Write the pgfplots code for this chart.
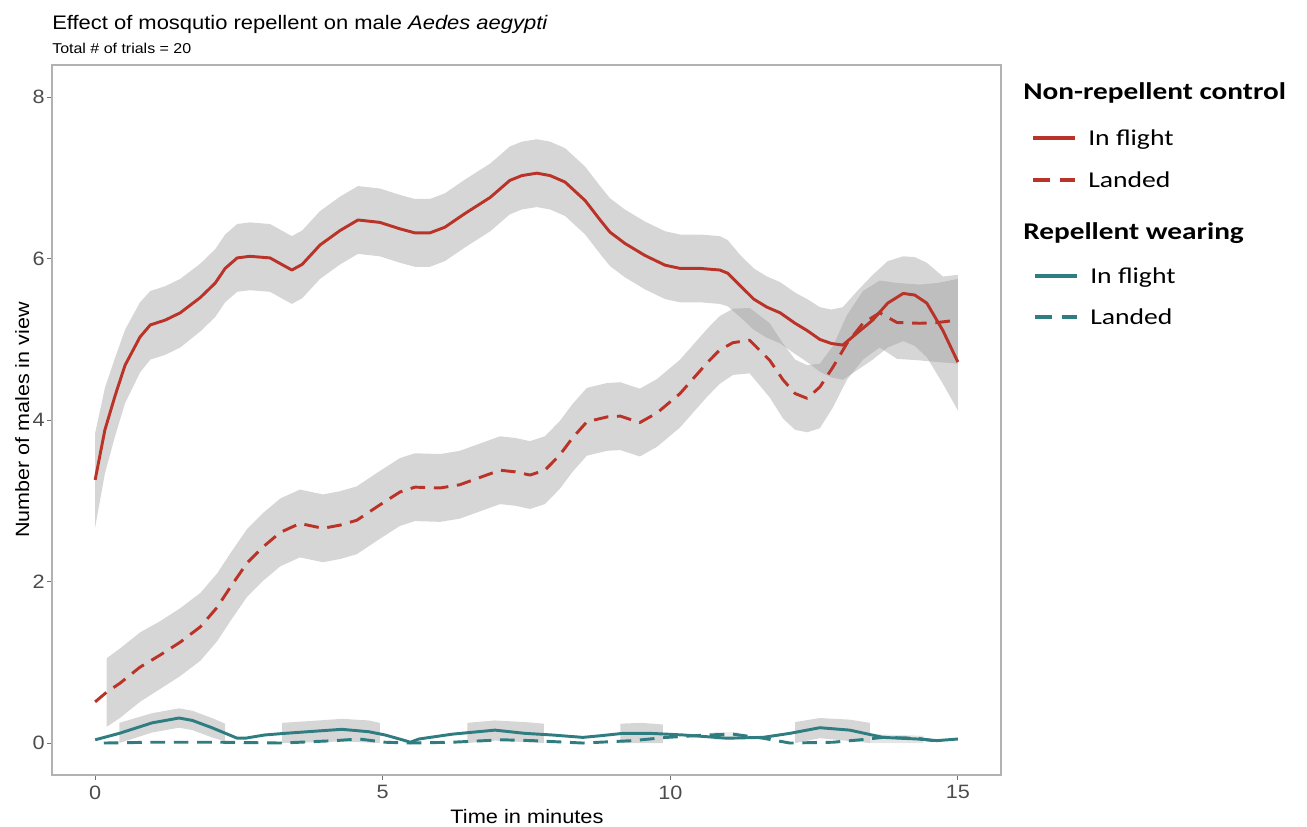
\documentclass[border=0pt]{standalone}
\usepackage{fontspec}
\setmainfont{Liberation Sans}[FakeStretch=1.12]
\newfontfamily\legfont{Carlito}[FakeStretch=1.22]
\usepackage{pgfplots}
\pgfplotsset{compat=1.18}
\usepackage{pgfplotstable}
\usepgfplotslibrary{fillbetween}
\definecolor{cred}{RGB}{186,51,40}
\definecolor{cteal}{RGB}{47,125,128}

% Non-repellent control, in flight: x, smooth, lower, upper
\pgfplotstableread{
x y lo hi
0.00 3.26 2.67 3.84
0.17 3.88 3.34 4.40
0.35 4.31 3.81 4.78
0.52 4.68 4.21 5.12
0.78 5.03 4.59 5.46
0.96 5.18 4.75 5.60
1.22 5.24 4.81 5.66
1.48 5.33 4.90 5.75
1.83 5.52 5.10 5.94
2.09 5.70 5.28 6.12
2.26 5.88 5.46 6.30
2.47 6.01 5.59 6.43
2.69 6.03 5.61 6.45
3.04 6.01 5.59 6.43
3.42 5.86 5.44 6.28
3.60 5.93 5.51 6.35
3.91 6.17 5.75 6.59
4.26 6.35 5.93 6.77
4.57 6.48 6.06 6.90
4.95 6.45 6.03 6.87
5.30 6.37 5.95 6.79
5.56 6.32 5.90 6.74
5.82 6.32 5.90 6.74
6.08 6.39 5.97 6.81
6.43 6.56 6.14 6.98
6.87 6.76 6.34 7.18
7.21 6.97 6.55 7.39
7.42 7.03 6.61 7.45
7.68 7.06 6.64 7.48
7.91 7.03 6.61 7.45
8.17 6.95 6.53 7.37
8.52 6.72 6.30 7.14
8.78 6.48 6.06 6.90
8.95 6.33 5.91 6.75
9.21 6.19 5.77 6.61
9.56 6.04 5.62 6.46
9.91 5.92 5.50 6.34
10.17 5.88 5.46 6.30
10.52 5.88 5.46 6.30
10.86 5.86 5.44 6.28
11.00 5.82 5.41 6.23
11.21 5.67 5.28 6.05
11.45 5.50 5.12 5.88
11.68 5.40 5.02 5.78
11.91 5.33 4.95 5.71
12.17 5.20 4.82 5.58
12.38 5.11 4.72 5.50
12.60 5.00 4.60 5.40
12.80 4.95 4.53 5.37
13.00 4.93 4.50 5.40
13.25 5.08 4.62 5.60
13.52 5.24 4.75 5.80
13.78 5.45 4.90 5.97
14.05 5.57 4.98 6.03
14.25 5.55 4.92 6.02
14.46 5.45 4.78 5.95
14.74 5.11 4.45 5.78
15.00 4.72 4.12 5.80
}\rflight

% Non-repellent control, landed
\pgfplotstableread{
x y lo hi
0.00 0.51 0.09 0.93
0.20 0.63 0.20 1.05
0.43 0.74 0.31 1.17
0.78 0.94 0.51 1.37
1.13 1.09 0.67 1.51
1.48 1.25 0.83 1.67
1.83 1.44 1.02 1.86
2.12 1.68 1.26 2.10
2.35 1.93 1.51 2.35
2.64 2.23 1.81 2.65
2.92 2.43 2.01 2.85
3.22 2.61 2.19 3.03
3.56 2.72 2.30 3.14
3.96 2.66 2.24 3.08
4.26 2.70 2.28 3.12
4.55 2.76 2.34 3.18
4.95 2.95 2.53 3.37
5.30 3.11 2.69 3.53
5.56 3.17 2.75 3.59
6.00 3.16 2.74 3.58
6.34 3.20 2.78 3.62
6.69 3.29 2.87 3.71
7.04 3.38 2.96 3.80
7.30 3.36 2.94 3.78
7.56 3.32 2.90 3.74
7.82 3.38 2.96 3.80
8.08 3.57 3.15 3.99
8.30 3.78 3.36 4.20
8.55 3.98 3.56 4.40
8.90 4.04 3.62 4.46
9.13 4.05 3.63 4.47
9.47 3.97 3.55 4.39
9.77 4.09 3.67 4.51
10.17 4.33 3.91 4.75
10.64 4.71 4.29 5.13
10.86 4.87 4.45 5.29
11.09 4.96 4.56 5.38
11.38 4.99 4.58 5.39
11.73 4.74 4.28 5.20
11.96 4.50 4.02 4.95
12.17 4.33 3.88 4.75
12.38 4.27 3.85 4.68
12.60 4.41 3.90 4.70
12.83 4.66 4.16 4.92
13.07 4.95 4.50 5.30
13.35 5.20 4.75 5.60
13.64 5.33 4.90 5.73
13.94 5.21 4.76 5.70
14.34 5.20 4.74 5.68
14.65 5.21 4.72 5.70
15.00 5.24 4.70 5.75
}\rlanded

% Repellent wearing, in flight
\pgfplotstableread{
x y
0.00 0.04
0.42 0.12
0.99 0.25
1.46 0.31
1.69 0.28
2.03 0.19
2.47 0.06
2.61 0.06
2.95 0.10
3.30 0.12
3.89 0.15
4.29 0.17
4.76 0.14
5.04 0.10
5.34 0.04
5.48 0.01
5.63 0.05
6.21 0.11
6.95 0.16
7.47 0.12
7.94 0.10
8.48 0.07
8.78 0.09
9.18 0.12
9.65 0.12
10.22 0.10
10.99 0.06
11.61 0.07
12.08 0.12
12.60 0.19
13.12 0.16
13.70 0.07
14.29 0.05
14.64 0.03
15.00 0.05
}\tflight

% Repellent wearing, landed
\pgfplotstableread{
x y
0.15 0.00
0.99 0.01
2.16 0.01
3.25 0.00
4.17 0.03
4.59 0.05
5.04 0.01
5.48 0.00
6.21 0.01
7.08 0.04
7.60 0.03
8.48 0.00
9.35 0.03
9.94 0.07
10.64 0.10
11.09 0.11
11.61 0.06
12.08 0.00
12.83 0.01
13.30 0.04
13.70 0.07
14.29 0.06
14.57 0.03
14.65 0.03
}\tlanded

\begin{document}
\begin{tikzpicture}
\begin{axis}[
  at={(39pt,38.25pt)}, anchor=south west,
  scale only axis, width=711.75pt, height=532.5pt,
  xmin=-0.75, xmax=15.75, ymin=-0.396, ymax=8.4,
  xtick={0,5,10,15}, ytick={0,2,4,6,8},
  tick align=outside, tick pos=left,
  major tick length=3.75pt,
  tick style={black!55, line width=0.8pt},
  axis line style={black!30, line width=0.8pt},
  ticklabel style={font=\fontsize{14.5}{16}\selectfont, text=black!70},
  yticklabel style={inner sep=1.5pt},
  xticklabel style={inner sep=4pt},
  /pgf/number format/assume math mode=true,
]
% control in flight
\addplot[name path=rfl, draw=none, forget plot] table[x=x,y=lo]{\rflight};
\addplot[name path=rfh, draw=none, forget plot] table[x=x,y=hi]{\rflight};
\addplot[fill=black!40, fill opacity=0.4, draw=none] fill between[of=rfl and rfh];
\addplot[cred, line width=2.2pt, line join=round] table[x=x,y=y]{\rflight};
% control landed
\addplot[name path=rll, draw=none, forget plot, restrict x to domain=0.15:15] table[x=x,y=lo]{\rlanded};
\addplot[name path=rlh, draw=none, forget plot, restrict x to domain=0.15:15] table[x=x,y=hi]{\rlanded};
\addplot[fill=black!40, fill opacity=0.4, draw=none] fill between[of=rll and rlh];
\addplot[cred, line width=2.2pt, line join=round, dash pattern=on 11pt off 6.5pt] table[x=x,y=y]{\rlanded};
% repellent in flight: ribbon pieces
\addplot[fill=black!40, fill opacity=0.4, draw=none] coordinates {(0.42,0.25) (0.99,0.37) (1.46,0.43) (1.69,0.40) (2.03,0.31) (2.26,0.24) (2.26,0.02) (2.03,0.07) (1.69,0.16) (1.46,0.19) (0.99,0.13) (0.42,0.00)};
\addplot[fill=black!40, fill opacity=0.4, draw=none] coordinates {(3.25,0.25) (3.89,0.28) (4.29,0.30) (4.76,0.28) (4.95,0.25) (4.95,0.00) (4.29,0.02) (3.89,0.01) (3.25,0.00)};
\addplot[fill=black!40, fill opacity=0.4, draw=none] coordinates {(6.47,0.25) (6.95,0.28) (7.47,0.26) (7.80,0.24) (7.80,0.00) (6.95,0.03) (6.47,0.00)};
\addplot[fill=black!40, fill opacity=0.4, draw=none] coordinates {(9.13,0.24) (9.50,0.25) (9.87,0.23) (9.87,0.00) (9.13,0.00)};
\addplot[fill=black!40, fill opacity=0.4, draw=none] coordinates {(12.17,0.26) (12.60,0.31) (13.12,0.29) (13.47,0.25) (13.47,0.00) (12.60,0.06) (12.17,0.00)};
\addplot[fill=black!40, fill opacity=0.18, draw=none] coordinates {(10.74,0.14) (11.20,0.14) (11.20,0.04) (10.74,0.04)};
\addplot[fill=black!40, fill opacity=0.25, draw=none] coordinates {(13.47,0.11) (14.40,0.09) (14.40,0.00) (13.47,0.00)};
\addplot[cteal, line width=2.2pt, line join=round] table[x=x,y=y]{\tflight};
\addplot[cteal, line width=2.2pt, line join=round, dash pattern=on 11pt off 6.5pt] table[x=x,y=y]{\tlanded};
\end{axis}

\begin{scope}[x=0.75pt, y=-0.75pt, shift={(0pt,619.5pt)}]
\node[anchor=base west, inner sep=0pt, font=\fontsize{14.7}{17}\selectfont] at (52,30) {Effect of mosqutio repellent on male \textit{Aedes aegypti}};
\node[anchor=base west, inner sep=0pt, font=\fontsize{10.7}{13}\selectfont] at (52,54) {Total \# of trials = 20};
\node[anchor=base, inner sep=0pt, font=\fontsize{14.6}{17}\selectfont] at (527,823) {Time in minutes};
\node[anchor=base, rotate=90, inner sep=0pt, font=\fontsize{14.4}{17}\selectfont] at (29,420) {Number of males in view};
% legend
\node[anchor=base west, inner sep=0pt, font=\legfont\bfseries\fontsize{18}{20}\selectfont] at (1023,100) {Non-repellent control};
\draw[cred, line width=2.4pt] (1033,138) -- (1075,138);
\node[anchor=base west, inner sep=0pt, font=\legfont\fontsize{17}{20}\selectfont] at (1088,146) {In flight};
\draw[cred, line width=2.4pt] (1033,180) -- (1050,180) (1060,180) -- (1075,180);
\node[anchor=base west, inner sep=0pt, font=\legfont\fontsize{17}{20}\selectfont] at (1088,188) {Landed};
\node[anchor=base west, inner sep=0pt, font=\legfont\bfseries\fontsize{18}{20}\selectfont] at (1023,240) {Repellent wearing};
\draw[cteal, line width=2.4pt] (1035,276) -- (1077,276);
\node[anchor=base west, inner sep=0pt, font=\legfont\fontsize{17}{20}\selectfont] at (1090,284) {In flight};
\draw[cteal, line width=2.4pt] (1035,317) -- (1052,317) (1062,317) -- (1077,317);
\node[anchor=base west, inner sep=0pt, font=\legfont\fontsize{17}{20}\selectfont] at (1090,325) {Landed};
\path (0,0) rectangle (1307,826);
\end{scope}
\end{tikzpicture}
\end{document}
